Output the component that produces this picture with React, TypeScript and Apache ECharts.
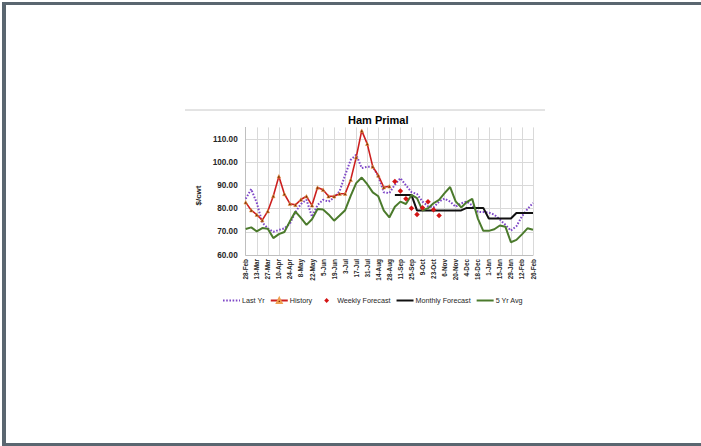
import React, { useEffect, useRef } from "react";
import * as echarts from "echarts";

// Weekly categories (labels shown every other week)
const weeks = [
  "28-Feb", "6-Mar", "13-Mar", "20-Mar", "27-Mar", "3-Apr", "10-Apr", "17-Apr", "24-Apr", "1-May",
  "8-May", "15-May", "22-May", "29-May", "5-Jun", "12-Jun", "19-Jun", "26-Jun", "3-Jul", "10-Jul",
  "17-Jul", "24-Jul", "31-Jul", "7-Aug", "14-Aug", "21-Aug", "28-Aug", "4-Sep", "11-Sep", "18-Sep",
  "25-Sep", "2-Oct", "9-Oct", "16-Oct", "23-Oct", "30-Oct", "6-Nov", "13-Nov", "20-Nov", "27-Nov",
  "4-Dec", "11-Dec", "18-Dec", "25-Dec", "1-Jan", "8-Jan", "15-Jan", "22-Jan", "29-Jan", "5-Feb",
  "12-Feb", "19-Feb", "26-Feb",
];

const lastYear = [
  84.2, 88.4, 82.5, 74.0, 71.5, 70.0, 70.8, 71.5, 73.5, 78.5,
  82.0, 83.8, 76.5, 81.5, 83.8, 83.0, 84.8, 87.5, 94.5, 101.0,
  103.2, 97.5, 98.0, 98.0, 94.0, 87.0, 86.7, 90.3, 93.1, 90.0,
  87.1, 86.3, 83.0, 81.0, 80.5, 83.0, 84.3, 83.0, 80.8, 82.3,
  83.0, 81.4, 78.6, 78.5, 78.3, 77.4, 75.3, 73.0, 70.5, 72.4,
  76.7, 79.8, 82.4,
];

const history = [
  82.7, 79.3, 77.4, 75.0, 78.9, 85.4, 93.9, 86.3, 82.1, 81.6,
  83.9, 85.3, 81.4, 89.1, 88.1, 85.3, 85.3, 86.4, 86.4, 92.4,
  102.1, 113.6, 107.9, 98.1, 94.3, 89.2, 89.6,
];

// Weekly forecast starts the week after the last history point
const weeklyStart = 27;
const weeklyForecast = [91.7, 87.6, 84.2, 80.2, 77.5, 80.4, 82.9, 79.5, 77.0];

const monthlyStart = 27;
const monthlyForecast = [
  85.9, 85.9, 85.9, 85.9,
  79.2, 79.2, 79.2, 79.2, 79.2, 79.2, 79.2, 79.2, 79.2,
  80.3, 80.3, 80.3, 80.3,
  75.7, 75.7, 75.7, 75.7, 75.7,
  78.1, 78.1, 78.1, 78.1,
];

const fiveYearAvg = [
  71.2, 71.9, 70.2, 71.6, 71.3, 67.3, 69.0, 69.9, 74.5, 78.7,
  76.0, 73.0, 75.4, 79.8, 79.6, 77.5, 74.8, 77.0, 79.3, 85.5,
  91.0, 93.4, 90.5, 87.0, 85.3, 79.1, 76.2, 80.8, 83.0, 82.0,
  85.9, 84.5, 79.2, 80.2, 82.3, 83.8, 86.7, 89.3, 83.1, 80.5,
  82.8, 84.2, 75.8, 70.4, 70.4, 71.1, 72.7, 72.2, 65.5, 66.5,
  68.9, 71.5, 70.9,
];

const FONT = "'Liberation Sans', Arial, sans-serif";

// Place a partial series onto the full weekly axis
function align(values: number[], start: number): (number | null)[] {
  return weeks.map((_, i) =>
    i >= start && i - start < values.length ? values[i - start] : null
  );
}

export default function App() {
  const ref = useRef<HTMLDivElement>(null);

  useEffect(() => {
    if (!ref.current) return;
    const chart = echarts.init(ref.current, undefined, { renderer: "svg" });
    const frame = "#5a6670";
    const hideSymbol = { itemStyle: { opacity: 0 } };

    chart.setOption({
      animation: false,
      backgroundColor: "#ffffff",
      title: {
        text: "Ham Primal",
        left: 348,
        top: 114,
        padding: 0,
        textStyle: { fontFamily: FONT, fontSize: 11, fontWeight: "bold", color: "#000" },
      },
      grid: { left: 245.7, right: 168, top: 127.4, bottom: 191 },
      legend: {
        left: 222,
        top: 297,
        padding: 0,
        itemWidth: 17,
        itemHeight: 6,
        itemGap: 5,
        textStyle: { fontFamily: FONT, fontSize: 7.2, color: "#262626", padding: [0, 0, 0, -3] },
        data: [
          { name: "Last Yr", ...hideSymbol },
          { name: "History" },
          { name: "Weekly Forecast" },
          { name: "Monthly Forecast", ...hideSymbol },
          { name: "5 Yr Avg", ...hideSymbol },
        ],
      },
      xAxis: {
        type: "category",
        data: weeks,
        boundaryGap: false,
        axisLine: { lineStyle: { color: "#bfbfbf", width: 1 } },
        axisTick: { show: false },
        axisLabel: {
          interval: 1,
          rotate: 90,
          margin: 4,
          fontFamily: FONT,
          fontSize: 6.4,
          fontWeight: "bold",
          color: "#262626",
        },
        splitLine: { show: true, interval: 1, lineStyle: { color: "#d9d9d9", width: 1 } },
      },
      yAxis: {
        type: "value",
        min: 60,
        max: 115,
        interval: 10,
        axisLine: { show: true, lineStyle: { color: "#bfbfbf", width: 1 } },
        axisTick: { show: false },
        axisLabel: {
          margin: 8,
          fontFamily: FONT,
          fontSize: 8.2,
          fontWeight: "bold",
          color: "#262626",
          formatter: (v: number) => (v > 110 ? "" : v.toFixed(2)),
        },
        splitLine: { show: true, showMaxLine: false, lineStyle: { color: "#d9d9d9", width: 1 } },
      },
      graphic: [
        { type: "rect", shape: { x: 2, y: 2, width: 699, height: 3 }, style: { fill: frame } },
        { type: "rect", shape: { x: 2, y: 2, width: 4, height: 444 }, style: { fill: frame } },
        { type: "rect", shape: { x: 2, y: 443, width: 699, height: 3 }, style: { fill: frame } },
        {
          type: "line",
          shape: { x1: 185, y1: 110, x2: 545, y2: 110 },
          style: { stroke: "#c8c8c8", lineWidth: 1 },
        },
        {
          type: "text",
          x: 198,
          y: 195.5,
          rotation: Math.PI / 2,
          style: {
            text: "$/cwt",
            fontFamily: FONT,
            fontSize: 8,
            fontWeight: "bold",
            fill: "#262626",
            align: "center",
            verticalAlign: "middle",
          },
        },
      ],
      series: [
        {
          name: "Last Yr",
          type: "line",
          data: lastYear,
          symbol: "none",
          lineStyle: { color: "#7f48c8", width: 2, type: [1.6, 1.6] },
          itemStyle: { color: "#7f48c8" },
        },
        {
          name: "History",
          type: "line",
          data: align(history, 0),
          symbol: "triangle",
          symbolSize: 3.5,
          showAllSymbol: true,
          lineStyle: { color: "#cc1f1f", width: 1.6 },
          itemStyle: { color: "#7a2a00", borderColor: "#f0a050", borderWidth: 0.6 },
        },
        {
          // markers only: the connecting line is hidden
          name: "Weekly Forecast",
          type: "line",
          data: align(weeklyForecast, weeklyStart),
          symbol: "diamond",
          symbolSize: 5.5,
          showAllSymbol: true,
          lineStyle: { opacity: 0 },
          itemStyle: { color: "#d41414" },
        },
        {
          name: "Monthly Forecast",
          type: "line",
          data: align(monthlyForecast, monthlyStart),
          symbol: "none",
          lineStyle: { color: "#111111", width: 2 },
          itemStyle: { color: "#111111" },
        },
        {
          name: "5 Yr Avg",
          type: "line",
          data: fiveYearAvg,
          symbol: "none",
          lineStyle: { color: "#4b7a2c", width: 2 },
          itemStyle: { color: "#4b7a2c" },
        },
      ],
    });

    return () => chart.dispose();
  }, []);

  return (
    <div
      ref={ref}
      style={{ position: "fixed", left: 0, top: 0, width: 701, height: 446 }}
    />
  );
}
